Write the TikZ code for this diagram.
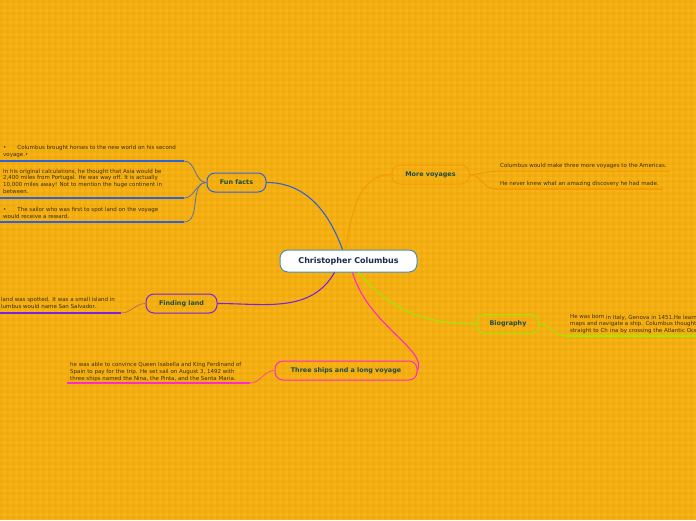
\documentclass[tikz,border=0pt]{standalone}
\usepackage{fontspec}
\setmainfont{DejaVu Sans}
\definecolor{cbg}{HTML}{F8B416}
\definecolor{cstripe}{HTML}{E89E08}
\definecolor{cblue}{HTML}{2F62D6}
\definecolor{corange}{HTML}{F59C00}
\definecolor{cpurple}{HTML}{7A22E0}
\definecolor{cmagenta}{HTML}{FF2AC8}
\definecolor{cgreen}{HTML}{9BEA00}
\definecolor{ccentre}{HTML}{4A8CBA}
\definecolor{clabel}{HTML}{1E4B45}
\definecolor{cnavy}{HTML}{1C2A52}
\definecolor{cleaf}{HTML}{3A2C10}
\tikzset{
  every picture/.style={x=1pt, y=-1pt},
  topic/.style={draw=ccentre, fill=white, line width=1pt, rounded corners=8pt, minimum width=137pt, minimum height=22pt, inner sep=0pt, text=cnavy, font=\fontsize{8}{9}\selectfont\bfseries},
  branch/.style={draw=#1, line width=1pt, rounded corners=8pt, minimum height=19pt, inner sep=0pt, text=clabel, font=\fontsize{6.4}{7}\selectfont\bfseries},
  leaf/.style={anchor=base west, inner sep=0pt, align=left, text=cleaf, font=\fontsize{5.5}{6.8}\selectfont},
  link/.style={draw=#1, line width=1.1pt},
  twig/.style={draw=#1, line width=0.8pt},
  uline/.style={draw=#1, line width=1.3pt},
}

\begin{document}
\begin{tikzpicture}
  \useasboundingbox (0,0) rectangle (696,520);
  \clip (0,0) rectangle (696,520);
  % plaid background
  \fill[cbg] (0,0) rectangle (696,520);
  \foreach \i in {0,6,...,696} {
    \fill[cstripe, opacity=0.25] (\i,0) rectangle ++(3,520);
  }
  \foreach \j in {0,6,...,520} {
    \fill[cstripe, opacity=0.25] (0,\j) rectangle ++(696,3);
  }

  % main topics
  \node[topic] (centre) at (348.5,261) {Christopher Columbus};
  \node[branch=cblue, minimum width=59pt] (fun) at (236.5,182.5) {Fun facts};
  \node[branch=corange, minimum width=77pt] (more) at (430.5,174.5) {More voyages};
  \node[branch=cpurple, minimum width=71pt] (land) at (181.5,303.5) {Finding land};
  \node[branch=cmagenta, minimum width=142pt] (ships) at (346,370.5) {Three ships and a long voyage};
  \node[branch=cgreen, minimum width=62pt] (bio) at (508,324) {Biography};

  \draw[link=cblue] ([xshift=-6pt]centre.north) to[out=110,in=0] (fun.east);
  \draw[link=corange] ([xshift=-3pt]centre.north) to[out=80,in=180] (more.west);
  \draw[link=cpurple] ([xshift=-14pt]centre.south) to[out=-120,in=0] (land.east);
  \draw[link=cmagenta] ([xshift=4pt]centre.south) .. controls (368,325) and (428,350) .. (ships.east);
  \draw[link=cgreen] ([xshift=10pt]centre.south) to[out=-50,in=180] (bio.west);

  % fun facts (base anchor = last line)
  \foreach \n/\y in {1/161, 2/198, 3/222} {
    \coordinate (fun\n) at (184,\y);
    \draw[uline=cblue] (fun\n) -- ++(-184,0);
    \draw[twig=cblue!50!gray] (fun.west) to[out=180,in=0] (fun\n);
  }
  \node[leaf] (funt1) at (3,156) {\textbullet\hspace{11pt}Columbus brought horses to the new world on his second\\voyage.\textbullet};
  \node[leaf] (funt2) at (3,193.5) {In his original calculations, he thought that Asia would be\\2,400 miles from Portugal. He was way off. It is actually\\10,000 miles away! Not to mention the huge continent in\\between.};
  \node[leaf] (funt3) at (3,218) {\textbullet\hspace{11pt}The sailor who was first to spot land on the voyage\\would receive a reward.};

  % more voyages
  \coordinate (more1) at (495,171.5);
  \coordinate (more2) at (495,189);
  \draw[uline=corange] (more1) -- ++(175,0);
  \draw[uline=corange] (more2) -- ++(168,0);
  \draw[twig=corange!80!brown] (more.east) to[out=0,in=180] (more1);
  \draw[twig=corange!80!brown] (more.east) to[out=0,in=180] (more2);
  \node[leaf] (moret1) at (500,167) {Columbus would make three more voyages to the Americas.};
  \node[leaf] (moret2) at (500,185) {He never knew what an amazing discovery he had made.};

  % finding land
  \coordinate (land1) at (121,313);
  \draw[uline=cpurple] (land1) -- ++(-121,0);
  \draw[twig=cpurple!40!corange] (land.west) to[out=180,in=0] (land1);
  \node[leaf] (landt) at (1,308) {land was spotted. It was a small island in\\lumbus would name San Salvador.};

  % three ships
  \coordinate (ships1) at (250,383);
  \draw[uline=cmagenta] (ships1) -- ++(-183,0);
  \draw[twig=cmagenta!70!corange] (ships.west) to[out=180,in=0] (ships1);
  \node[leaf] (shipst) at (70,380) {he was able to convince Queen Isabella and King Ferdinand of\\Spain to pay for the trip. He set sail on August 3, 1492 with\\three ships named the Nina, the Pinta, and the Santa Maria.};

  % biography
  \coordinate (bio1) at (565,336);
  \draw[uline=cgreen] (bio1) -- ++(131,0);
  \draw[twig=cgreen] (bio.east) to[out=0,in=180] (bio1);
  \node[leaf] (biot1) at (570,332) {He was born\\maps and navigate a ship. Columbus thought\\straight to Ch};
  \node[leaf] (biot2) at (606,319.5) {in Italy, Genova in 1451.He learn};
  \node[leaf] (biot3) at (610,332.5) {ina by crossing the Atlantic Oce};
\end{tikzpicture}
\end{document}
